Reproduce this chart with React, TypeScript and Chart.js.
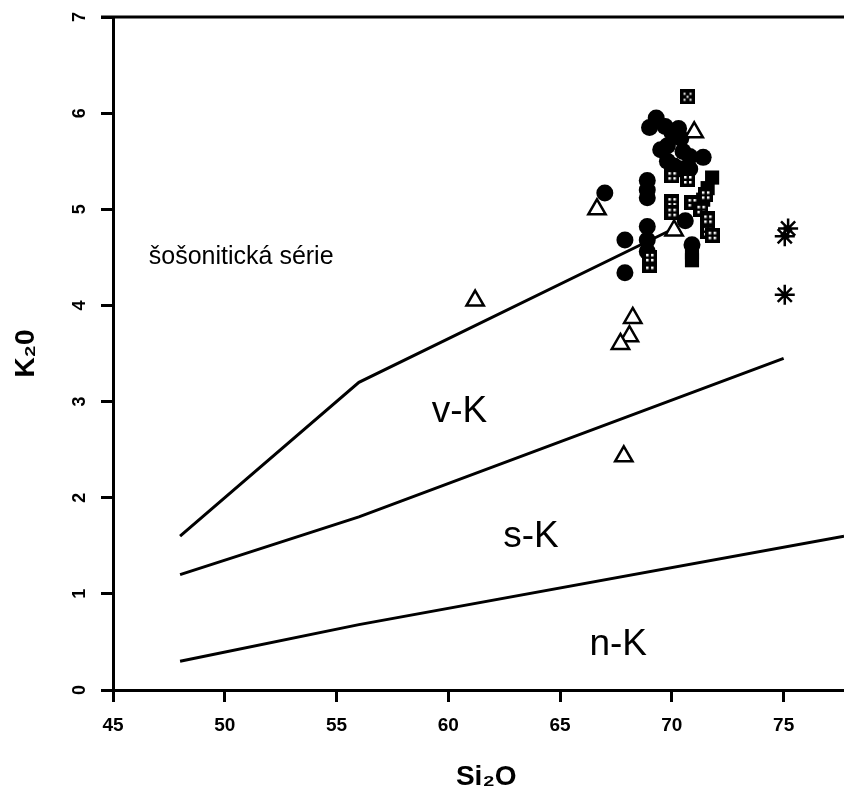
import React, { useEffect, useRef } from "react";
import { Chart, registerables } from "chart.js";

Chart.register(...registerables);

const xTicks = [45, 50, 55, 60, 65, 70, 75];
const yTicks = [0, 1, 2, 3, 4, 5, 6, 7];

// boundary lines (SiO2, K2O)
const upperLine = [[48, 1.6], [56, 3.2], [70.1, 4.8]];
const middleLine = [[48, 1.2], [56, 1.8], [75, 3.45]];
const lowerLine = [[48, 0.3], [56, 0.68], [77.7, 1.6]];

// samples
const circles = [
  [67.0, 5.17], [67.9, 4.68], [67.9, 4.34], [69.0, 5.85], [69.3, 5.95], [69.7, 5.86],
  [70.0, 5.8], [70.3, 5.84], [70.4, 5.74], [69.8, 5.66], [69.5, 5.62], [69.8, 5.5],
  [70.1, 5.45], [70.5, 5.6], [70.8, 5.55], [71.4, 5.54], [70.4, 5.42], [68.9, 5.3],
  [68.9, 5.2], [68.9, 5.12], [70.6, 4.88], [68.9, 4.82], [68.9, 4.68], [68.9, 4.56],
  [70.9, 4.63], [70.8, 5.42]
];
const plusSquares = [
  [70.0, 5.35], [70.7, 5.31], [70.0, 5.08], [70.0, 4.97], [70.9, 5.07], [71.3, 5.0],
  [71.6, 4.9], [71.6, 4.77], [71.8, 4.73], [69.0, 4.42], [69.0, 4.5], [71.5, 5.15]
];
const darkSquares = [
  [71.8, 5.33], [71.6, 5.22], [71.4, 5.1], [70.9, 4.55], [70.9, 4.47]
];
const crossSquares = [[70.7, 6.17]];
const triangles = [
  [61.2, 4.05], [66.65, 5.0], [71.0, 5.8], [70.1, 4.78], [68.25, 3.87],
  [68.1, 3.68], [67.7, 3.6], [67.85, 2.43]
];
const asterisks = [[75.2, 4.8], [75.05, 4.72], [75.05, 4.11]];

const annotations = [
  { text: "šošonitická série", x: 46.6, y: 4.5, size: 25, align: "left" },
  { text: "v-K", x: 60.5, y: 2.89, size: 37, align: "center" },
  { text: "s-K", x: 63.7, y: 1.59, size: 37, align: "center" },
  { text: "n-K", x: 67.6, y: 0.47, size: 37, align: "center" }
];

const FONT = "Arial, 'Liberation Sans', Helvetica, sans-serif";

const toPts = (a: number[][]) => a.map(([x, y]) => ({ x, y }));

function makePlusSquare(): HTMLCanvasElement {
  const c = document.createElement("canvas");
  c.width = 15;
  c.height = 15;
  const g = c.getContext("2d")!;
  g.fillStyle = "#000";
  g.fillRect(0, 0, 15, 15);
  g.fillStyle = "#fff";
  for (const [a, b] of [[4, 4], [9, 4], [4, 9], [9, 9]]) g.fillRect(a, b, 2.5, 2.5);
  return c;
}

function makeCrossSquare(): HTMLCanvasElement {
  const c = document.createElement("canvas");
  c.width = 15;
  c.height = 15;
  const g = c.getContext("2d")!;
  g.fillStyle = "#000";
  g.fillRect(0, 0, 15, 15);
  g.fillStyle = "#fff";
  for (const [a, b] of [[3.5, 3.5], [9.5, 3.5], [6.5, 6.5], [3.5, 9.5], [9.5, 9.5]]) g.fillRect(a, b, 2, 2);
  return c;
}

const decorPlugin = {
  id: "decor",
  afterDraw(chart: any) {
    const { ctx, chartArea, scales } = chart;
    const xs = scales.x;
    const ys = scales.y;
    ctx.save();
    // top frame line
    ctx.strokeStyle = "#000";
    ctx.lineWidth = 3;
    ctx.beginPath();
    const yTop = ys.getPixelForValue(7);
    ctx.moveTo(chartArea.left - 12, yTop);
    ctx.lineTo(chartArea.right, yTop);
    ctx.stroke();
    // rotated y tick labels
    ctx.fillStyle = "#000";
    ctx.font = `bold 18px ${FONT}`;
    ctx.textAlign = "center";
    ctx.textBaseline = "middle";
    for (const v of yTicks) {
      const py = ys.getPixelForValue(v);
      ctx.save();
      ctx.translate(80, py);
      ctx.rotate(-Math.PI / 2);
      ctx.fillText(String(v), 0, 0);
      ctx.restore();
    }
    // region annotations
    for (const a of annotations) {
      ctx.font = `${a.size}px ${FONT}`;
      ctx.textAlign = a.align;
      ctx.textBaseline = "middle";
      ctx.fillText(a.text, xs.getPixelForValue(a.x), ys.getPixelForValue(a.y));
    }
    ctx.restore();
  }
};

export default function App() {
  const ref = useRef<HTMLCanvasElement>(null);
  useEffect(() => {
    document.body.style.margin = "0";
    const plus = makePlusSquare();
    const cross = makeCrossSquare();
    const lineDs = (data: number[][]) => ({
      type: "line" as const,
      data: toPts(data),
      borderColor: "#000",
      borderWidth: 3,
      pointRadius: 0,
      fill: false,
      tension: 0
    });
    const chart = new Chart(ref.current!, {
      type: "scatter",
      data: {
        datasets: [
          {
            data: toPts(triangles),
            pointStyle: "triangle",
            pointRadius: 10,
            borderColor: "#000",
            backgroundColor: "#fff",
            borderWidth: 2.5
          },
          {
            data: toPts(asterisks),
            pointStyle: "star",
            pointRadius: 10,
            borderColor: "#000",
            backgroundColor: "#000",
            borderWidth: 2.5
          },
          {
            data: toPts(crossSquares),
            pointStyle: cross,
            pointRadius: 8
          },
          {
            data: toPts(plusSquares),
            pointStyle: plus,
            pointRadius: 8
          },
          {
            data: toPts(darkSquares),
            pointStyle: "rect",
            pointRadius: 10,
            borderColor: "#000",
            backgroundColor: "#000",
            borderWidth: 0
          },
          {
            data: toPts(circles),
            pointStyle: "circle",
            pointRadius: 8.5,
            borderColor: "#000",
            backgroundColor: "#000",
            borderWidth: 0
          },
          lineDs(upperLine),
          lineDs(middleLine),
          lineDs(lowerLine)
        ] as any
      },
      options: {
        responsive: false,
        animation: false,
        events: [],
        layout: { autoPadding: false, padding: { top: 17, right: 0, left: 0, bottom: 0 } },
        plugins: { legend: { display: false }, tooltip: { enabled: false } },
        scales: {
          x: {
            type: "linear",
            min: 45,
            max: 77.7,
            afterBuildTicks: (s: any) => {
              s.ticks = xTicks.map((v) => ({ value: v }));
            },
            afterFit: (s: any) => {
              s.height = 102;
              s.paddingRight = 0;
              s.paddingLeft = 0;
            },
            ticks: {
              color: "#000",
              font: { family: FONT, size: 19, weight: "bold" },
              padding: 12,
              maxRotation: 0
            },
            grid: {
              drawOnChartArea: false,
              drawTicks: true,
              tickLength: 12,
              tickWidth: 3,
              tickColor: "#000"
            },
            border: { display: true, color: "#000", width: 3 },
            title: {
              display: true,
              text: "  Si₂O",
              color: "#000",
              font: { family: FONT, size: 28, weight: "bold", lineHeight: 1 },
              padding: { top: 0, bottom: 1 }
            }
          },
          y: {
            type: "linear",
            min: 0,
            max: 7,
            afterBuildTicks: (s: any) => {
              s.ticks = yTicks.map((v) => ({ value: v }));
            },
            afterFit: (s: any) => {
              s.width = 113;
              s.paddingTop = 0;
              s.paddingBottom = 0;
            },
            ticks: { display: false },
            grid: {
              drawOnChartArea: false,
              drawTicks: true,
              tickLength: 12,
              tickWidth: 3,
              tickColor: "#000"
            },
            border: { display: true, color: "#000", width: 3 },
            title: {
              display: true,
              text: "K₂0",
              color: "#000",
              font: { family: FONT, size: 28, weight: "bold", lineHeight: 1 },
              padding: { top: 12, bottom: 0 }
            }
          }
        }
      } as any,
      plugins: [decorPlugin]
    });
    return () => chart.destroy();
  }, []);
  return <canvas ref={ref} width={844} height={792} style={{ display: "block" }} />;
}
